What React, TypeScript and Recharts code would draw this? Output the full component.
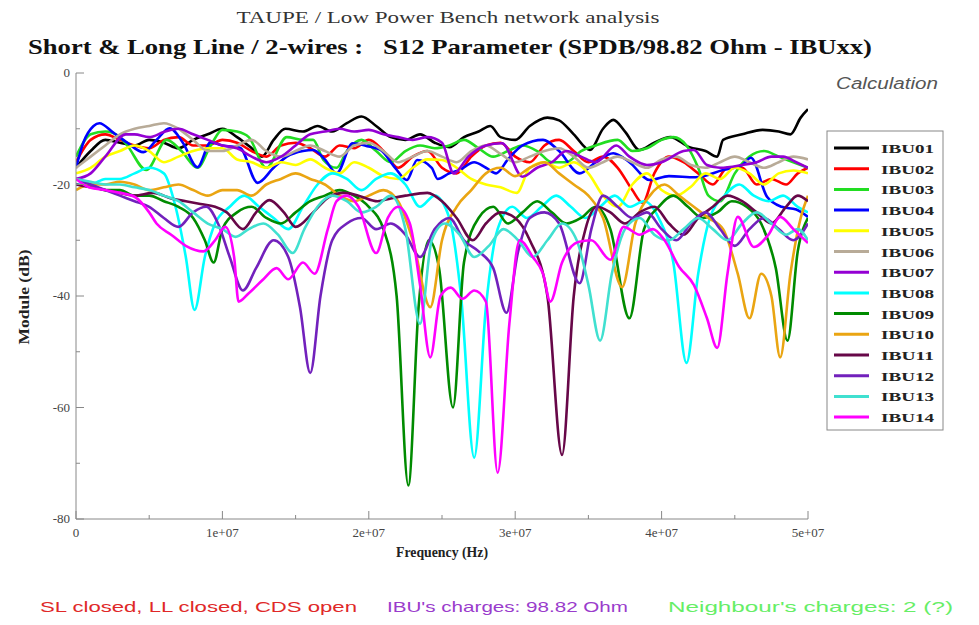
import React from 'react';
import { LineChart, Line, XAxis, YAxis } from 'recharts';

type P = [number, number]; // [frequency in MHz, module in dB]

const IBU01: P[] = [[0,-17],[1,-14],[2,-12],[3,-12.5],[4,-13],[5,-12],[6,-12.5],[7,-13.5],[8,-12],[9,-11],[10,-10],[11,-11.5],[12,-13.5],[12.7,-15],[13.5,-12],[14.3,-10],[15.5,-10.5],[16.5,-9.5],[17.5,-10.5],[18.5,-9],[19.5,-7.8],[20.5,-9.5],[21.5,-11.5],[22.5,-12],[23.5,-11],[24.5,-12.5],[25.5,-13.3],[26.5,-11.5],[27.5,-10.5],[28.3,-9.5],[29,-11.5],[30,-12],[31,-9.5],[32.2,-8],[33,-8.5],[34,-11],[35.1,-13.8],[36,-10],[36.7,-8.4],[37.5,-10.5],[38.5,-13.8],[39.5,-12.5],[40.6,-11.5],[41.9,-13.3],[43,-14],[43.8,-15],[44.2,-12],[45.5,-11],[46.9,-10.2],[48,-10.5],[48.8,-11],[49.5,-8],[50,-6.5]];
const IBU02: P[] = [[0,-16],[1,-12],[2,-11],[3,-12],[4,-13],[5,-13.5],[6,-12],[7,-11.5],[8,-13],[9,-13],[10,-12],[11,-12.5],[12,-14],[13,-15],[14,-13],[15,-12.5],[16,-13.5],[17,-15],[18,-13],[19,-13.5],[20,-12],[21,-14],[22,-17],[23,-15],[24,-14],[25,-17],[26,-18],[27,-15],[28,-13],[29,-12.5],[30,-15],[31,-16],[32,-13],[33,-12],[34,-14],[35,-16],[36,-15],[37,-17],[38,-21],[38.7,-23.3],[39.5,-18],[40.5,-15],[41.5,-16],[42.5,-18],[43.5,-20],[44.5,-17],[45.5,-17],[46.5,-20],[47.5,-19],[48.5,-20],[49.3,-18],[50,-17]];
const IBU03: P[] = [[0,-15],[1,-11],[2,-10.5],[3,-11.5],[3.5,-13],[4.8,-17.4],[6.2,-12],[7.2,-14],[8.3,-17],[9.2,-13],[10,-10.2],[11,-10.5],[11.8,-11.5],[13,-17],[14.4,-11.5],[15.5,-12],[16.2,-12],[16.9,-15.6],[17.8,-17],[18.5,-14],[19.5,-12],[20.5,-14],[21.5,-16],[22.5,-14],[23.5,-13],[24.5,-13.5],[25.5,-13],[26.5,-12],[27.5,-13.5],[28.5,-15],[29.5,-14],[30.5,-13],[31.5,-14],[32.5,-16],[33.5,-16],[34.5,-14],[35.5,-13],[37,-12],[38,-14],[39,-13.5],[40,-12],[40.8,-11.5],[41.7,-13],[42.5,-17],[43.2,-22],[44,-23],[45,-18],[46,-15],[47,-14],[48,-15],[49,-16],[50,-17]];
const IBU04: P[] = [[0,-17],[0.5,-12.5],[1.2,-9.5],[1.6,-9],[2.5,-10.6],[3.5,-12.5],[4.6,-14.2],[5.5,-12],[6.4,-9.9],[7.3,-12.5],[8.3,-16.9],[9.2,-12.4],[10,-13],[11.2,-13.4],[12.4,-19.7],[13.5,-17],[14.4,-15],[15.5,-14],[16.2,-13.8],[17,-15.5],[17.8,-18],[18.9,-12.6],[20,-13.2],[20.8,-13.8],[21.8,-17],[22.6,-19.2],[23.3,-15.6],[24.3,-17],[24.7,-19],[25.5,-18],[26.2,-17.4],[27.2,-16],[28,-17],[28.7,-18],[29.5,-15.5],[30.5,-13],[31.9,-12],[33,-14],[34.4,-18],[35.5,-16],[36.7,-14.4],[37.8,-16],[39.2,-19.2],[40.5,-18.5],[42.3,-18.7],[44.2,-17.4],[45.5,-16.5],[46.1,-15.2],[47.2,-22.2],[48.2,-24],[49.2,-24.5],[50,-25.8]];
const IBU05: P[] = [[0,-18],[1,-17],[2,-15],[3,-14],[4,-13],[5,-14],[6,-16],[7,-15],[8,-14],[9,-13.5],[10,-13.5],[11,-15.5],[12,-16],[13,-17],[14,-16],[15,-16.5],[16,-15.5],[17,-17],[18,-18],[19,-16],[20,-17],[21,-18.5],[22,-19],[23,-17],[24,-15.5],[25,-15.6],[26,-17],[27,-19],[28,-20],[29,-20.5],[30.1,-21.5],[31,-17],[32,-16],[33,-17],[34,-16],[35,-18],[36,-22],[37,-24],[38,-20],[39,-18],[40,-21],[41,-22],[42,-20.4],[43,-18],[44,-19],[45,-17],[46,-18],[47,-20],[48,-18],[49,-17.5],[50,-18]];
const IBU06: P[] = [[0,-17],[1,-15],[2,-13],[3,-11],[4,-10],[5,-9.5],[6,-9],[7,-10],[8,-12],[9,-14],[10,-14],[11,-13],[12,-12],[13,-14],[14,-15],[15,-14],[16,-13],[17,-14],[18,-15],[19,-13],[20,-12.5],[21,-14],[22,-16],[23,-15],[24,-14],[25,-15],[26,-16],[27,-14],[28,-13],[29,-14.5],[30,-16],[31,-15],[32,-14],[33,-13.5],[34,-15],[35,-17],[36,-16],[37,-15],[38,-16],[39,-17],[40,-15.5],[41,-15],[42,-16.5],[43,-17],[44,-16],[45,-15],[46,-16],[47,-17],[48,-16],[49,-15],[50,-15.5]];
const IBU07: P[] = [[0,-19],[1,-18],[2,-15],[3.4,-11],[4,-11],[5,-11.5],[6,-10.6],[7,-10],[8,-11],[9,-12],[10,-13],[11,-13.5],[12,-15],[13,-16],[14,-15],[15,-13],[16,-11],[17,-10.5],[18,-10],[19,-10.5],[20,-10.2],[21,-11],[22,-11.5],[23,-12],[24,-11.5],[25,-12.5],[25.8,-18],[26.8,-15],[28,-13],[29.1,-12.6],[30.5,-18.6],[31.5,-17],[32.5,-16],[33.5,-14],[34.5,-15],[35.5,-16],[36.9,-13],[37.8,-15],[39,-16.5],[40,-16],[41.5,-14],[42.2,-13.8],[43.1,-16.5],[44,-17],[45.5,-16.5],[46.5,-16],[47.5,-15],[48.3,-15],[49.2,-16],[50,-17]];
const IBU08: P[] = [[0,-20],[1,-20],[2,-19],[3,-19],[4,-18],[5,-17],[6,-18],[6.8,-24],[7.5,-33],[8.1,-42.5],[8.8,-33],[9.5,-27],[10.5,-24],[11.5,-22],[12.5,-24],[13.5,-26],[14.5,-28],[15.5,-24],[16.5,-20],[17.5,-18],[18.5,-19],[19.5,-21],[20.5,-19],[21.5,-18],[22.5,-20],[23.5,-24],[24.5,-22],[25.5,-26],[26.3,-40],[27.2,-69],[28,-42],[28.8,-28],[29.8,-24],[30.8,-26],[31.8,-24],[32.8,-22],[33.8,-24],[34.8,-26],[35.8,-24],[36.8,-22],[37.8,-24],[38.8,-23],[39.8,-26],[40.8,-34],[41.7,-52],[42.5,-36],[43.3,-26],[44.3,-22],[45.3,-20],[46.3,-22],[47.3,-23],[48.3,-22],[49.3,-24],[50,-25]];
const IBU09: P[] = [[0,-19],[1,-20],[2,-21],[3,-21],[4,-22],[5,-22],[6,-23],[7,-24],[8,-26],[8.8,-30],[9.4,-34],[10,-28],[11,-25],[12,-24],[13,-26],[14,-27],[15,-25],[16,-23],[17,-22],[18,-21],[19,-22],[20,-24],[21,-28],[21.9,-40],[22.7,-74],[23.4,-42],[24.1,-30],[24.8,-35],[25.75,-60],[26.5,-34],[27.5,-26],[28.5,-24],[29.5,-27],[30.5,-25],[31.5,-23],[32.5,-25],[33.5,-27],[34.5,-26],[35.5,-24],[36.5,-28],[37.8,-44],[38.8,-28],[39.8,-24],[40.8,-22],[41.8,-24],[42.8,-26],[43.8,-25],[44.8,-23],[45.8,-24],[46.8,-27],[47.8,-35],[48.6,-48],[49.3,-32],[50,-26]];
const IBU10: P[] = [[0,-21],[1,-20],[2,-20],[3,-19.5],[4,-20],[5,-21],[6,-20.5],[7,-20],[8,-21],[9,-22],[10,-21],[11,-21],[12,-22],[13,-20],[14,-19],[15,-18],[16,-19],[17,-20],[18,-22],[19,-23],[20,-22],[21,-21],[22,-23],[23,-30],[24.2,-42],[25,-30],[26,-24],[27,-21],[28,-18],[29,-17],[30,-18.5],[31,-17],[32,-16],[33,-18],[34,-20],[35,-22],[36,-26],[37.3,-38.4],[38.2,-27],[39.2,-22],[40.2,-20],[41.2,-22],[42.2,-24],[43.2,-26],[44.2,-28],[45.2,-36],[46,-44],[46.8,-36],[47.5,-40],[48.1,-51],[48.8,-36],[49.5,-26],[50,-22]];
const IBU11: P[] = [[0,-20],[1,-20.5],[2,-21],[3,-21.5],[4,-22],[5.3,-21.5],[6.5,-22.5],[7.5,-23],[8.5,-23.5],[9.5,-24],[10.3,-25],[11.4,-28],[12.3,-25],[13.2,-22.8],[14.2,-25],[15,-27.6],[16.2,-25],[17.3,-22.2],[18.3,-21.5],[19.3,-22],[20.6,-23],[21.5,-22.5],[22.5,-22],[24,-21.5],[25,-23],[26,-26],[27.1,-30],[28,-27],[29,-25],[30,-26],[31,-30],[32.2,-40],[33.2,-68.5],[34,-40],[34.8,-28],[35.6,-24],[36.5,-25],[37.5,-27],[38.5,-25],[39.5,-24],[40.5,-27],[41.5,-29],[42.5,-26],[43.5,-24],[44.5,-22],[45.5,-23],[46.5,-25],[47.5,-27],[48.5,-24],[49.3,-22],[50,-23]];
const IBU12: P[] = [[0,-19],[1,-20],[2,-21],[3,-22],[4,-23],[5,-24],[6,-26],[7,-27.6],[8,-25],[8.9,-24],[9.7,-27],[10.5,-33],[11.4,-39],[12.3,-35],[13.5,-30],[14.5,-33],[15.3,-42],[16,-53.8],[16.7,-40],[17.5,-30],[18.5,-27],[19.5,-26],[20.5,-28],[21.5,-27],[22.5,-29],[23.5,-33],[24.5,-28],[25.5,-26],[26.5,-30],[27.5,-32],[28.5,-35],[29.4,-43],[30.2,-32],[31,-26],[32,-25],[33,-27],[34.4,-37.7],[35.2,-28],[36,-22],[37,-24],[38,-26],[39,-25],[40,-28],[41,-30],[42,-27],[43,-25],[44,-28],[45,-31],[46,-28],[47,-26],[48,-28],[49,-30],[50,-27]];
const IBU13: P[] = [[0,-19],[1,-19.5],[2,-20],[3,-20],[4,-20.5],[5,-21],[6,-22],[7,-23],[8,-25],[9,-27],[10,-28],[10.9,-29.4],[11.8,-28],[12.8,-27],[13.8,-29],[14.8,-32.3],[15.6,-28],[16.5,-24],[17.5,-22],[18.5,-23],[19.5,-25],[20.5,-24],[21.5,-22],[22.5,-28],[23.5,-45],[24.3,-30],[25.2,-27],[26.2,-29],[27.2,-33],[28.2,-31],[29.2,-28],[30.2,-30],[31.2,-33],[32.2,-30],[33.2,-27],[34.2,-30],[35,-38],[35.8,-48],[36.6,-36],[37.5,-28],[38.5,-26],[39.5,-29],[40.5,-30],[41.5,-28],[42.5,-26],[43.5,-28],[44.5,-30],[45.5,-27],[46.5,-25],[47.5,-27],[48.5,-29],[49.3,-28],[50,-30]];
const IBU14: P[] = [[0,-19],[0.8,-20.4],[2,-21],[3,-21.5],[4,-22.2],[5,-25],[5.5,-27],[6.5,-29],[7.5,-31],[8.7,-32],[9.5,-30],[10.2,-27.6],[10.8,-33],[11.1,-41],[11.8,-39.5],[12.8,-37],[13.7,-35],[14.5,-37],[15.5,-34],[16.3,-36],[17.2,-28],[17.8,-23],[18.5,-22],[19.3,-24],[20.5,-32.3],[21.3,-26],[22,-24],[22.8,-27],[23.5,-38],[24.2,-51],[24.9,-40],[25.6,-38.5],[26.4,-40.5],[27.2,-39],[28,-41],[28.8,-71.7],[29.6,-45],[30.3,-30],[31.2,-33],[31.9,-36],[32.4,-41],[33.2,-34],[34.3,-30.3],[35.2,-30],[36.5,-33.5],[37.4,-27.6],[38.5,-29],[39.4,-28],[40.2,-30],[41.2,-34.8],[42.2,-38],[43.1,-44],[43.8,-49.3],[44.5,-36],[45.2,-25.8],[46.3,-31.2],[47.3,-29],[48.1,-25.8],[49,-28],[50,-30.5]];

const SERIES_POINTS: P[][] = [IBU01, IBU02, IBU03, IBU04, IBU05, IBU06, IBU07, IBU08, IBU09, IBU10, IBU11, IBU12, IBU13, IBU14];
const SERIES_NAMES = ['IBU01','IBU02','IBU03','IBU04','IBU05','IBU06','IBU07','IBU08','IBU09','IBU10','IBU11','IBU12','IBU13','IBU14'];
const SERIES_COLORS = ['#000000','#ff0000','#22dd22','#0000ff','#ffff00','#b8ab98','#9400d3','#00ffff','#008b00','#eaa512','#670748','#7221bc','#40e0d0','#ff00ff'];

const X_TICKS = [0,5e6,1e7,1.5e7,2e7,2.5e7,3e7,3.5e7,4e7,4.5e7,5e7];
const Y_TICKS = [-80,-70,-60,-50,-40,-30,-20,-10,0];

const TITLE = 'TAUPE / Low Power Bench network analysis';
const SUBTITLE = 'Short & Long Line / 2-wires :   S12 Parameter (SPDB/98.82 Ohm - IBUxx)';

const seriesData = SERIES_POINTS.map(pts => pts.map(([f, v]) => ({ f: f * 1e6, v })));

const AXIS = '#888';
const serif = '"Liberation Serif", "DejaVu Serif", serif';
const sans = '"Liberation Sans", Arial, sans-serif';

const xLabel = (v: number) => (v === 0 ? '0' : `${Math.round(v / 1e7)}e+07`);

const BottomTick = (props: any) => {
  const { x, y, payload } = props;
  const v = payload.value as number;
  const major = Math.abs(v % 1e7) < 1;
  return (
    <g>
      <line x1={x} x2={x} y1={y} y2={y - (major ? 8 : 4)} stroke={AXIS} strokeWidth={1} />
      {major && (
        <text x={x} y={y + 18} textAnchor="middle" fontFamily={serif} fontSize={13} fill="#444">{xLabel(v)}</text>
      )}
    </g>
  );
};
const TopTick = (props: any) => {
  const { x, y, payload } = props;
  const v = payload.value as number;
  const major = Math.abs(v % 1e7) < 1;
  return <line x1={x} x2={x} y1={y} y2={y + (major ? 8 : 4)} stroke={AXIS} strokeWidth={1} />;
};
const LeftTick = (props: any) => {
  const { x, y, payload } = props;
  const v = payload.value as number;
  const major = v % 20 === 0;
  return (
    <g>
      <line x1={x} x2={x + (major ? 8 : 4)} y1={y} y2={y} stroke={AXIS} strokeWidth={1} />
      {major && (
        <text x={x - 6} y={y + 4} textAnchor="end" fontFamily={serif} fontSize={13} fill="#444">{String(v)}</text>
      )}
    </g>
  );
};
const RightTick = (props: any) => {
  const { x, y, payload } = props;
  const v = payload.value as number;
  const major = v % 20 === 0;
  return <line x1={x} x2={x - (major ? 8 : 4)} y1={y} y2={y} stroke={AXIS} strokeWidth={1} />;
};

export default function App() {
  return (
    <div style={{ position: 'absolute', left: 0, top: 0, width: 979, height: 625, background: '#fff' }}>
      <LineChart width={979} height={625} margin={{ top: 73, right: 171, bottom: 76, left: 0 }}>
        <XAxis xAxisId="b" dataKey="f" type="number" domain={[0, 5e7]} ticks={X_TICKS} interval={0}
          orientation="bottom" height={30} tickSize={0} tickMargin={0} tickLine={false}
          axisLine={{ stroke: AXIS }} tick={<BottomTick />} allowDataOverflow />
        <XAxis xAxisId="t" dataKey="f" type="number" domain={[0, 5e7]} ticks={X_TICKS} interval={0}
          orientation="top" height={0} tickSize={0} tickMargin={0} tickLine={false}
          axisLine={{ stroke: AXIS }} tick={<TopTick />} allowDataOverflow />
        <YAxis yAxisId="l" type="number" domain={[-80, 0]} ticks={Y_TICKS} interval={0}
          orientation="left" width={76} tickSize={0} tickMargin={0} tickLine={false}
          axisLine={{ stroke: AXIS }} tick={<LeftTick />} allowDataOverflow />
        <YAxis yAxisId="r" type="number" domain={[-80, 0]} ticks={Y_TICKS} interval={0}
          orientation="right" width={0} tickSize={0} tickMargin={0} tickLine={false}
          axisLine={{ stroke: AXIS }} tick={<RightTick />} allowDataOverflow />
        {seriesData.map((d, i) => (
          <Line key={SERIES_NAMES[i]} name={SERIES_NAMES[i]} data={d} dataKey="v" xAxisId="b" yAxisId="l"
            type="monotone" stroke={SERIES_COLORS[i]} strokeWidth={2.6} dot={false}
            isAnimationActive={false} strokeLinejoin="round" />
        ))}
      </LineChart>
      <svg width={979} height={625} style={{ position: 'absolute', left: 0, top: 0, pointerEvents: 'none' }}>
        <text x={448} y={23} textAnchor="middle" fontFamily={serif} fontSize={17} fill="#333"
          textLength={423} lengthAdjust="spacingAndGlyphs">{TITLE}</text>
        <text x={450} y={54} textAnchor="middle" fontFamily={serif} fontSize={21} fontWeight="bold" fill="#111"
          textLength={844} lengthAdjust="spacingAndGlyphs" style={{ whiteSpace: 'pre' }}>{SUBTITLE}</text>
        <text x={836} y={89} fontFamily={sans} fontStyle="italic" fontSize={16} fill="#555"
          textLength={102} lengthAdjust="spacingAndGlyphs">Calculation</text>
        <text x={0} y={0} transform="translate(29,297) rotate(-90)" textAnchor="middle" fontFamily={serif}
          fontSize={15} fontWeight="bold" fill="#222" textLength={95} lengthAdjust="spacingAndGlyphs">Module (dB)</text>
        <text x={442} y={557} textAnchor="middle" fontFamily={serif} fontSize={14} fontWeight="bold" fill="#222"
          textLength={92} lengthAdjust="spacingAndGlyphs">Frequency (Hz)</text>
        <rect x={827} y={131} width={116} height={299} fill="#fff" stroke={AXIS} strokeWidth={1} />
        {SERIES_NAMES.map((n, i) => {
          const yy = 148 + i * 20.7;
          return (
            <g key={n}>
              <line x1={834} x2={869} y1={yy} y2={yy} stroke={SERIES_COLORS[i]} strokeWidth={3} />
              <text x={881} y={yy + 5} fontFamily={serif} fontSize={13} fontWeight="bold" fill="#222"
                textLength={53} lengthAdjust="spacingAndGlyphs">{n}</text>
            </g>
          );
        })}
        <text x={40} y={612} fontFamily={sans} fontSize={15} fill="#e02828" textLength={317} lengthAdjust="spacingAndGlyphs">SL closed, LL closed, CDS open</text>
        <text x={387} y={612} fontFamily={sans} fontSize={15} fill="#9a3ccc" textLength={241} lengthAdjust="spacingAndGlyphs">IBU's charges: 98.82 Ohm</text>
        <text x={668} y={612} fontFamily={sans} fontSize={15} fill="#66ee66" textLength={285} lengthAdjust="spacingAndGlyphs">Neighbour's charges: 2 (?)</text>
      </svg>
    </div>
  );
}
